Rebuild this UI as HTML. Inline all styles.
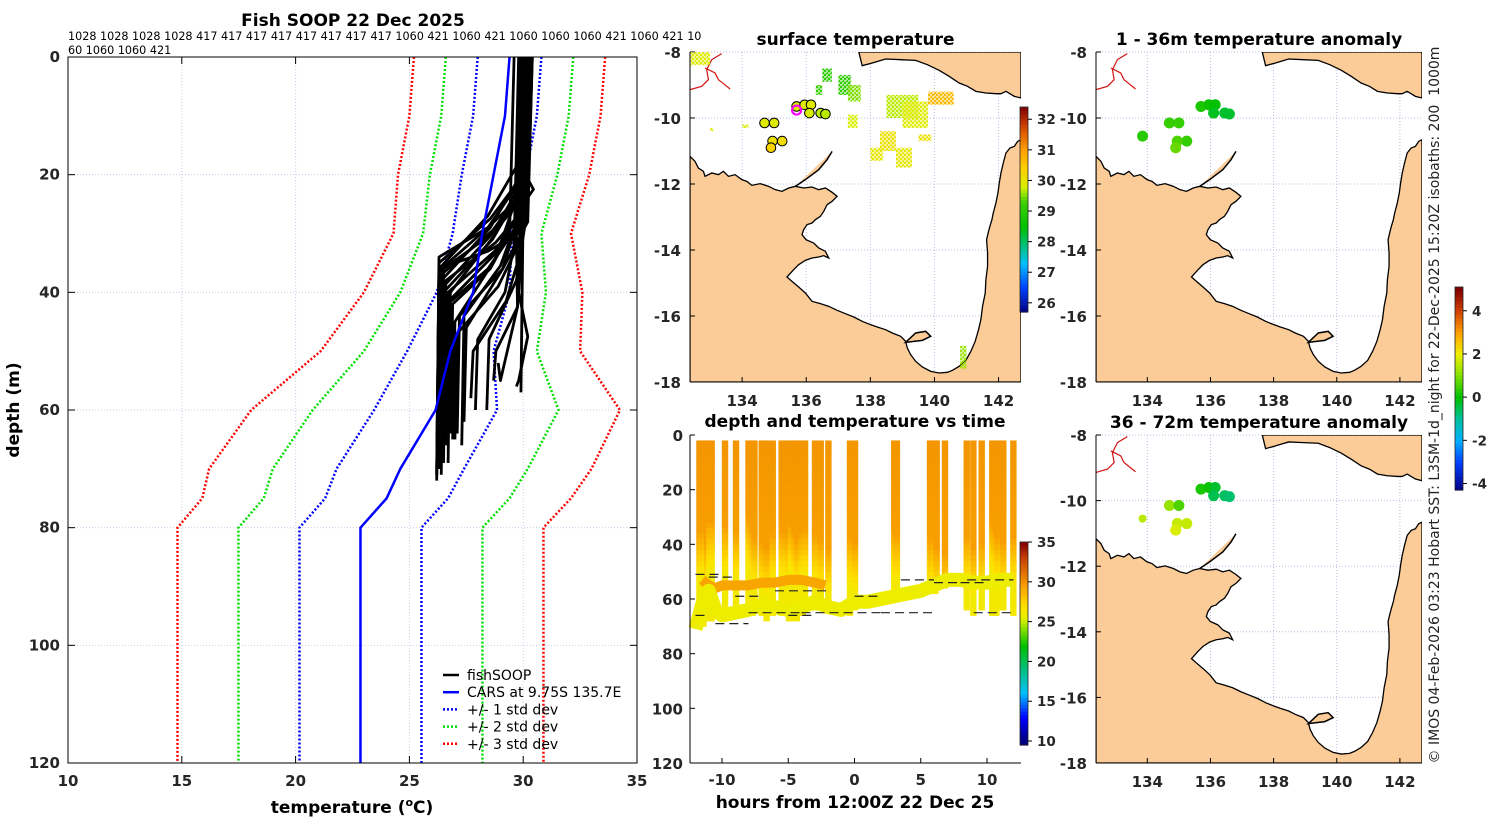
<!DOCTYPE html>
<html><head><meta charset="utf-8"><style>
html,body{margin:0;padding:0;background:#fff}
svg{display:block;font-family:"DejaVu Sans","Liberation Sans",sans-serif}
.tk{font-size:15px;font-weight:bold;fill:#262626}
.ttl{font-size:17px;font-weight:bold;fill:#000}
</style></head><body>
<svg id="fig" width="1500" height="820" viewBox="0 0 1500 820" xmlns="http://www.w3.org/2000/svg">
<defs>
<pattern id="speck" width="4" height="4" patternUnits="userSpaceOnUse"><rect x="0" y="0" width="2" height="2" fill="#000"/><rect x="2" y="2" width="2" height="2" fill="#000"/><rect x="2" y="0" width="1" height="1" fill="#000"/></pattern>
</defs>
<g id="left"></g>
<g id="sst"></g>
<g id="an1"></g>
<g id="an2"></g>
<g id="dt"></g>
<text x="1439" y="405" transform="rotate(-90 1439 405)" text-anchor="middle" font-size="14" fill="#222" xml:space="preserve">© IMOS 04-Feb-2026 03:23 Hobart SST: L3SM-1d_night for 22-Dec-2025 15:20Z isobaths: 200  1000m</text>
</svg>
<script>
// ---------- Data ----------
const carsDepths=[0,10,20,30,40,50,60,70,75,80,120];
const carsMean=[29.4,29.2,28.7,28.2,27.8,26.8,26.15,24.6,24.0,22.85,22.85];
const carsStd=[1.4,1.4,1.4,1.3,1.6,1.9,2.7,2.8,2.7,2.68,2.68];
const fishSurfT=[30.0,30.1,30.2,30.3,29.9,30.4,30.0,30.2,30.1,29.8,30.3,30.2,30.0,30.1,29.9,30.2,30.4,30.0,30.3,30.1,29.9,30.2,29.6,30.3,30.0,30.2,29.9,30.1];
const fishMldTop=[18,20,22,25,24,28,30,20,26,32,22,24,27,35,30,20,25,40,28,33,22,26,30,20,24,21,29,31];
const fishDeepT=[26.3,26.4,26.5,26.6,27.0,27.2,26.3,26.8,27.5,28.0,26.4,26.5,27.4,28.8,29.0,26.3,26.6,29.8,28.5,27.8,26.4,26.7,26.9,30.0,26.3,26.5,26.4,27.1];
const fishThermoBase=[36,38,40,42,45,44,36,40,46,48,37,36,44,50,55,35,38,55,48,50,36,40,42,25,34,39,43,47];
const fishMaxDepth=[71,70,68,66,65,64,72,69,62,60,70,68,66,55,52,71,69,56,60,58,67,66,64,57,70,71,68,65];
const topLabels1="1028 1028 1028 1028 417 417 417 417 417 417 417 417 1060 421 1060 421 1060 1060 1060 421 1060 421 10";
const topLabels2="60 1060 1060 421";
const tempTicks=[10,15,20,25,30,35];
const depthTicks=[0,20,40,60,80,100,120];
const lonTicks=[134,136,138,140,142];
const latTicks=[-8,-10,-12,-14,-16,-18];
const hourTicks=[-10,-5,0,5,10];
const stLon=[134.7,135.0,135.25,134.95,134.9,135.7,135.95,136.15,136.1,136.45,136.6,133.85];
const stLat=[-10.15,-10.15,-10.7,-10.7,-10.9,-9.65,-9.6,-9.6,-9.85,-9.85,-9.88,-10.55];
const stSST=[29.9,29.9,30.2,30.1,30.3,29.8,29.9,29.9,29.8,29.7,29.7,29.9];
const stAn1=[0.4,0.4,0.4,0.6,0.8,0.2,0.1,0.0,-0.2,-0.3,-0.3,0.3];
const stAn2=[1.2,0.6,1.6,1.6,1.8,0.2,0.1,-0.3,-0.5,-0.6,-0.7,1.5];
const patchLon0=[132.4,136.5,137.0,137.3,136.3,137.3,138.5,139.0,139.8,138.3,138.8,140.8,133.0,134.0,138.0,139.5];
const patchLat0=[-8.0,-8.5,-8.7,-9.0,-9.0,-9.9,-9.3,-9.5,-9.2,-10.4,-10.9,-16.9,-10.3,-10.2,-10.9,-10.5];
const patchLon1=[133.0,136.8,137.4,137.7,136.5,137.6,139.5,139.8,140.6,138.8,139.3,141.0,133.1,134.2,138.4,139.9];
const patchLat1=[-8.4,-8.9,-9.3,-9.5,-9.3,-10.3,-10.0,-10.3,-9.6,-11.0,-11.5,-17.6,-10.4,-10.3,-11.3,-10.7];
const patchVal=[29.9,29.0,29.1,29.5,29.2,29.8,29.7,29.9,30.7,30.1,30.0,29.6,29.9,29.9,30.0,30.1];
const castTimes=[-11.7,-11.55,-11.4,-11.25,-11.1,-10.95,-10.78,-9.77,-8.94,-8.0,-7.85,-7.7,-7.55,-7.0,-6.85,-6.63,-6.17,-5.5,-5.3,-4.95,-4.8,-4.65,-4.5,-4.35,-4.2,-4.05,-3.9,-3.73,-2.98,-2.55,-1.97,-0.34,0.04,3.0,3.1,3.2,5.7,5.82,5.95,6.1,6.2,6.83,8.47,8.97,9.6,10.4,10.55,10.7,10.86,11.0,11.23,11.99];
const castBottom=[70,69,69,68,67,67,68,66,66,66,65,65,64,66,66,67,65,66,65,67,68,66,66,67,66,65,65,64,63,62,64,66,63,59,59,60,57,58,57,57,55,55,64,65,64,65,64,66,64,64,63,65];
const castMld=[35,33,34,33,38,30,30,32,34,28,30,33,36,38,38,40,35,33,34,36,30,32,34,36,38,35,34,33,35,37,40,36,38,32,34,35,35,38,36,37,40,42,36,40,38,30,32,34,36,35,38,36];
const bandTimes=[-12,-11.5,-11,-10.5,-10,-9,-8,-7,-6,-5,-4,-3,-2,-1,0,1,2,3,4,5,6,7,8,9,10,11,12];
const bandDepths=[71,62,57,64,66,65,64,62,63,64,63,61,63,64,61,61,60,59,58,57,55,53,53,54,54,53,53];
const warmTimes=[-11.5,-11,-10.5,-10,-9,-8,-7,-6,-5,-4,-3,-2.2];
const warmDepths=[53,55,56,55,55,55,54,54,53,53,54,55];
const dashT0=[-12,-11,-9,-12,-10.5,-8,-6,-5,-4,0,2,3.5,6,8,9,8.5];
const dashT1=[-10,-9,-7,-11,-8,-4,-2,-3,2,2,6,6,8,10,12,12];
const dashD=[51,52,59,66,69,65,57,66,65,59,65,53,54,54,65,53];

// ---------- helpers ----------
const NS="http://www.w3.org/2000/svg";
function mk(tag,attrs,parent){const e=document.createElementNS(NS,tag);for(const k in attrs)e.setAttribute(k,attrs[k]);parent.appendChild(e);return e;}
function hex(c){return [parseInt(c.slice(1,3),16),parseInt(c.slice(3,5),16),parseInt(c.slice(5,7),16)];}
function cmap(stops){return function(v){if(v<=stops[0][0])return stops[0][1];for(let i=1;i<stops.length;i++){if(v<=stops[i][0]){const a=stops[i-1],b=stops[i];const t=(v-a[0])/(b[0]-a[0]);const A=hex(a[1]),B=hex(b[1]);return 'rgb('+A.map((x,j)=>Math.round(x+(B[j]-x)*t)).join(',')+')';}}return stops[stops.length-1][1];};}
const cmDT=cmap([[10,'#000080'],[13,'#0000ff'],[16,'#00bfff'],[19,'#00c080'],[22,'#00c000'],[24,'#80e000'],[25.5,'#e8f000'],[27,'#ffe000'],[29.5,'#f8a000'],[33,'#c84000'],[35,'#800000']]);
const cmSST=cmap([[25.7,'#000080'],[26.5,'#0040ff'],[27.3,'#00c0ff'],[27.7,'#00c0a0'],[28.5,'#00c000'],[29.3,'#40d000'],[29.8,'#d8f000'],[30.4,'#ffd000'],[31,'#ffa000'],[31.8,'#d04000'],[32.4,'#800000']]);
const cmAN=cmap([[-4.3,'#000080'],[-3,'#0040ff'],[-2,'#00b0ff'],[-1,'#00c0a0'],[0,'#00c000'],[1,'#80e000'],[2,'#f0f000'],[3,'#ffa000'],[4,'#d04000'],[5,'#800000']]);

// ---------- left profile panel ----------
(function(){
const g=document.getElementById('left');
const X0=68,X1=637,Y0=57,Y1=763;
const xs=t=>X0+(t-10)/25*(X1-X0), ys=d=>Y0+d/120*(Y1-Y0);
let t=mk('text',{x:353,y:26,'text-anchor':'middle',class:'ttl'},g);t.textContent='Fish SOOP 22 Dec 2025';

t=mk('text',{x:68,y:40,'font-size':'11.2',fill:'#000'},g);t.textContent=topLabels1;

t=mk('text',{x:68,y:54,'font-size':'11.2',fill:'#000'},g);t.textContent=topLabels2;

tempTicks.forEach(v=>{const x=xs(v);
 if(v>10&&v<35)mk('line',{x1:x,y1:Y0,x2:x,y2:Y1,stroke:'#c8cce8','stroke-width':1,'stroke-dasharray':'1 2'},g);
 mk('line',{x1:x,y1:Y1,x2:x,y2:Y1-7,stroke:'#000'},g);mk('line',{x1:x,y1:Y0,x2:x,y2:Y0+7,stroke:'#000'},g);
 const l=mk('text',{x:x,y:786,'text-anchor':'middle',class:'tk'},g);l.textContent=v;
 });
depthTicks.forEach(v=>{const y=ys(v);
 if(v>0&&v<120)mk('line',{x1:X0,y1:y,x2:X1,y2:y,stroke:'#c8cce8','stroke-width':1,'stroke-dasharray':'1 2'},g);
 mk('line',{x1:X0,y1:y,x2:X0+7,y2:y,stroke:'#000'},g);mk('line',{x1:X1,y1:y,x2:X1-7,y2:y,stroke:'#000'},g);
 const l=mk('text',{x:60,y:y+5,'text-anchor':'end',class:'tk'},g);l.textContent=v;
 });
const cols=['#0000ff','#00e000','#ff0000'];
[1,2,3].forEach(k=>{[-1,1].forEach(s=>{
 const pts=carsDepths.map((d,i)=>xs(carsMean[i]+s*k*carsStd[i])+','+ys(d)).join(' ');
 const p=mk('polyline',{points:pts,fill:'none',stroke:cols[k-1],'stroke-width':2.5,'stroke-dasharray':'2 2'},g);
 });});
fishSurfT.forEach((st,i)=>{
 const m=(fishMldTop[i]+fishThermoBase[i])/2;
 const pts=[[st,0],[st-0.2,fishMldTop[i]],[(st+fishDeepT[i])/2+0.3,m],[fishDeepT[i],fishThermoBase[i]],[fishDeepT[i]-0.1,fishMaxDepth[i]]];
 const p=mk('polyline',{points:pts.map(q=>xs(q[0])+','+ys(q[1])).join(' '),fill:'none',stroke:'#000','stroke-width':2.8,'stroke-linejoin':'round'},g);
 });
const cp=mk('polyline',{points:carsDepths.map((d,i)=>xs(carsMean[i])+','+ys(d)).join(' '),fill:'none',stroke:'#0000ff','stroke-width':2.5},g);

const fr=mk('rect',{x:X0,y:Y0,width:X1-X0,height:Y1-Y0,fill:'none',stroke:'#000'},g);

t=mk('text',{x:352,y:813,'text-anchor':'middle',class:'ttl'},g);
t.innerHTML='temperature (<tspan font-size="11" dy="-7">o</tspan><tspan dy="7">C)</tspan>';

t=mk('text',{x:19,y:410,'text-anchor':'middle',class:'ttl',transform:'rotate(-90 19 410)'},g);t.textContent='depth (m)';

const leg=[['fishSOOP','#000',''],['CARS at 9.75S 135.7E','#0000ff',''],['+/- 1 std dev','#0000ff','2 2'],['+/- 2 std dev','#00e000','2 2'],['+/- 3 std dev','#ff0000','2 2']];
leg.forEach((e,i)=>{const y=675+i*17.2;
 const lg=mk('g',{},g);
 mk('line',{x1:443,y1:y,x2:459,y2:y,stroke:e[1],'stroke-width':2.5,'stroke-dasharray':e[2]||'none'},lg);
 const l=mk('text',{x:467,y:y+5,'font-size':'14',fill:'#000'},lg);l.textContent=e[0];});
})();

// ---------- maps ----------
const landPath="M15,350 L30,365 40,385 55,395 60,410 80,400 100,405 115,395 130,410 150,405 170,420 185,425 200,437 225,432 250,440 270,450 290,455 310,445 330,440 355,445 380,442 400,450 420,445 440,458 455,470 440,485 425,495 415,515 405,530 390,540 380,550 365,555 355,570 350,585 362,600 385,610 400,625 420,635 430,655 415,648 400,652 380,655 360,662 340,675 325,690 305,712 320,725 340,742 360,760 380,785 405,792 430,800 455,812 480,822 505,832 530,845 555,855 575,862 600,870 620,880 645,890 660,905 665,925 675,945 690,965 710,982 735,995 760,1000 785,998 800,992 820,980 840,962 855,935 868,905 878,870 885,840 890,800 898,760 900,720 905,680 905,640 902,600 908,575 912,560 918,540 922,520 930,490 936,460 940,430 945,400 952,370 960,340 972,325 985,320 995,305 1005,300 L1005,1027 L15,1027 Z M520,37 L1005,37 1005,175 985,170 960,155 945,162 930,162 900,160 870,155 845,140 820,130 790,110 760,92 725,75 690,62 645,60 600,58 560,70 530,78 Z";
function drawMap(gid,X0,X1,Y0,Y1,title,showXlab,cb){
 const g=document.getElementById(gid);
 const lonL=132.375,lonR=142.7;
 const xs=l=>X0+(l-lonL)/(lonR-lonL)*(X1-X0), ys=a=>Y0+(-8-a)/10*(Y1-Y0);
 let t=mk('text',{x:(X0+X1)/2,y:Y0-7,'text-anchor':'middle',class:'ttl'},g);t.textContent=title;
 
 lonTicks.forEach(v=>{const x=xs(v);
  mk('line',{x1:x,y1:Y0,x2:x,y2:Y1,stroke:'#b8bce0','stroke-width':1,'stroke-dasharray':'1 2'},g);});
 latTicks.forEach(v=>{const y=ys(v);
  mk('line',{x1:X0,y1:y,x2:X1,y2:y,stroke:'#b8bce0','stroke-width':1,'stroke-dasharray':'1 2'},g);});
 const land=mk('svg',{x:X0,y:Y0,width:X1-X0,height:Y1-Y0,viewBox:'15 37 990 990',preserveAspectRatio:'none'},g);
 const lp=mk('path',{d:landPath,fill:'#fbcb98',stroke:'#000','stroke-width':1.3,'vector-effect':'non-scaling-stroke'},land);
 
 mk('path',{d:'M330,440 L360,420 400,390 425,360 440,335 M660,908 L690,880 720,875 735,890 710,902 Z',fill:'#fbcb98',stroke:'#000','stroke-width':1.5,'vector-effect':'non-scaling-stroke'},land);
 const iso=mk('path',{d:'M15,150 L50,140 70,120 65,90 80,60 110,42 M60,85 L90,100 100,120 125,140 135,148',fill:'none',stroke:'#d01010','stroke-width':1.2,'vector-effect':'non-scaling-stroke'},land);
 
 lonTicks.forEach(v=>{const x=xs(v);
  mk('line',{x1:x,y1:Y1,x2:x,y2:Y1-5,stroke:'#000'},g);
  if(showXlab){const l=mk('text',{x:x,y:Y1+24,'text-anchor':'middle',class:'tk'},g);l.textContent=v;
  }});
 latTicks.forEach(v=>{const y=ys(v);
  mk('line',{x1:X0,y1:y,x2:X0+5,y2:y,stroke:'#000'},g);
  const l=mk('text',{x:X0-9,y:y+6,'text-anchor':'end',class:'tk'},g);l.textContent=v;
  });
 mk('line',{x1:X0,y1:Y0,x2:X0,y2:Y1,stroke:'#000'},g);mk('line',{x1:X0,y1:Y1,x2:X1,y2:Y1,stroke:'#000'},g);
 cb(g,xs,ys);
}
function colorbar(g,x,yTop,yBot,vMin,vMax,cm,ticks,name){
 const cg=mk('g',{},g);
 const n=60;for(let i=0;i<n;i++){const v=vMin+(vMax-vMin)*(i+0.5)/n;const y=yBot-(i+1)*(yBot-yTop)/n;
  mk('rect',{x:x,y:y,width:8,height:(yBot-yTop)/n+0.6,fill:cm(v)},cg);}
 mk('rect',{x:x,y:yTop,width:8,height:yBot-yTop,fill:'none',stroke:'#222','stroke-width':0.8},cg);
 ticks.forEach(v=>{const y=yBot-(v-vMin)/(vMax-vMin)*(yBot-yTop);
  mk('line',{x1:x+8,y1:y,x2:x+12,y2:y,stroke:'#000'},cg);
  const l=mk('text',{x:x+17,y:y+5,'font-size':'13.5','font-weight':'bold',fill:'#262626'},cg);l.textContent=v;});
}
drawMap('sst',690,1021,52,382,'surface temperature',true,(g,xs,ys)=>{
 const mask=mk('mask',{id:'speckmask'},g);
 mk('rect',{x:0,y:0,width:1500,height:820,fill:'#fff'},mask);
 mk('rect',{x:0,y:0,width:1500,height:820,fill:'url(#speck)',opacity:0.6},mask);
 patchVal.forEach((v,i)=>{const r=mk('rect',{x:xs(patchLon0[i]),y:ys(patchLat0[i]),width:xs(patchLon1[i])-xs(patchLon0[i]),height:ys(patchLat1[i])-ys(patchLat0[i]),fill:cmSST(v),mask:'url(#speckmask)'},g);
  });
 stSST.forEach((v,i)=>{if(i===11)return;const c=mk('circle',{cx:xs(stLon[i]),cy:ys(stLat[i]),r:4.8,fill:cmSST(v),stroke:'#000','stroke-width':1},g);
  });
 const m=mk('circle',{cx:xs(135.7),cy:ys(-9.76),r:4.5,fill:'none',stroke:'#ff00ff','stroke-width':2.2},g);
 
 colorbar(g,1020,107,312,25.7,32.4,cmSST,[26,27,28,29,30,31,32],'sst-colorbar');
});
drawMap('an1',1096,1422,52,382,'1 - 36m temperature anomaly',true,(g,xs,ys)=>{
 stAn1.forEach((v,i)=>{const c=mk('circle',{cx:xs(stLon[i]),cy:ys(stLat[i]),r:5.5,fill:cmAN(v)},g);
  });
 colorbar(g,1455,287,490,-4.3,5.1,cmAN,[-4,-2,0,2,4],'anomaly-colorbar');
});
drawMap('an2',1096,1422,435,763,'36 - 72m temperature anomaly',true,(g,xs,ys)=>{
 stAn2.forEach((v,i)=>{const c=mk('circle',{cx:xs(stLon[i]),cy:ys(stLat[i]),r:i===11?4:5.5,fill:cmAN(v)},g);
  });
});

// ---------- depth-time ----------
(function(){
const g=document.getElementById('dt');
const X0=690,X1=1021,Y0=435,Y1=763;
const xs=h=>722+(h+10)*13.25, ys=d=>Y0+d/120*(Y1-Y0);
let t=mk('text',{x:855,y:427,'text-anchor':'middle',class:'ttl'},g);t.textContent='depth and temperature vs time';

function tempAt(d,mld){if(d<mld)return 29.9-d*0.01;const f=Math.min(1,(d-mld)/18);return 29.6-f*3.4;}
castTimes.forEach((h,i)=>{const cg=mk('g',{},g);
 for(let d=2;d<castBottom[i];d+=2){mk('rect',{x:xs(h)-3.2,y:ys(d),width:6.4,height:ys(2)-ys(0)+0.5,fill:cmDT(tempAt(d,castMld[i]))},cg);}});
const wp=mk('polyline',{points:warmTimes.map((h,i)=>xs(h)+','+ys(warmDepths[i])).join(' '),fill:'none',stroke:cmDT(29.3),'stroke-width':10,'stroke-linejoin':'round'},g);

const bp=mk('polyline',{points:bandTimes.map((h,i)=>xs(h)+','+ys(bandDepths[i])).join(' '),fill:'none',stroke:cmDT(25.8),'stroke-width':14,'stroke-linejoin':'round'},g);

dashD.forEach((d,i)=>{const l=mk('line',{x1:xs(dashT0[i]),y1:ys(d),x2:xs(dashT1[i]),y2:ys(d),stroke:'#222','stroke-width':1.2,'stroke-dasharray':'9 5'},g);
 });
depthTicks.forEach(v=>{const y=ys(v);mk('line',{x1:X0,y1:y,x2:X0+5,y2:y,stroke:'#000'},g);
 const l=mk('text',{x:683,y:y+6,'text-anchor':'end',class:'tk'},g);l.textContent=v;
 });
hourTicks.forEach(v=>{const x=xs(v);mk('line',{x1:x,y1:Y1,x2:x,y2:Y1-5,stroke:'#000'},g);
 const l=mk('text',{x:x,y:785,'text-anchor':'middle',class:'tk'},g);l.textContent=v;
 });
mk('line',{x1:X0,y1:Y0,x2:X0,y2:Y1,stroke:'#000'},g);mk('line',{x1:X0,y1:Y1,x2:X1,y2:Y1,stroke:'#000'},g);
t=mk('text',{x:855,y:808,'text-anchor':'middle',class:'ttl'},g);t.textContent='hours from 12:00Z 22 Dec 25';

colorbar(g,1020,542,745,9.5,35,cmDT,[10,15,20,25,30,35],'depth-time-colorbar');
})();
</script>
</body></html>
